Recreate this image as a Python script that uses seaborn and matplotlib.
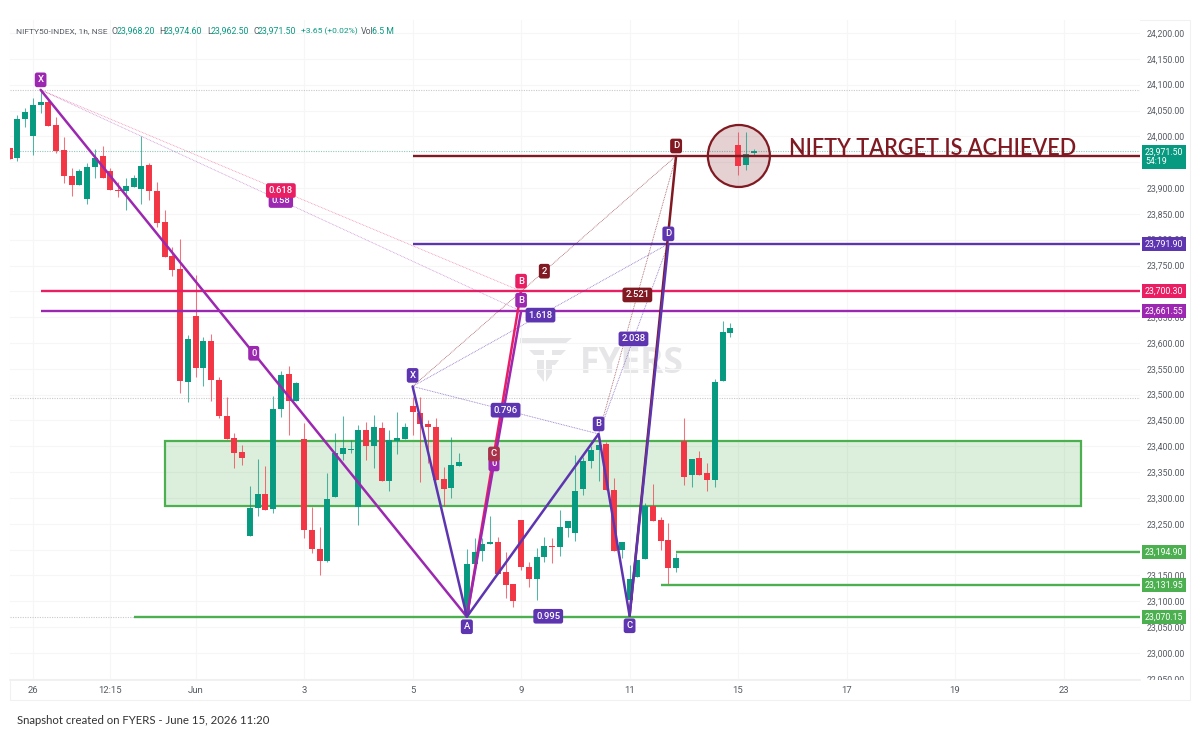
import matplotlib
matplotlib.use("Agg")
import matplotlib.pyplot as plt
from matplotlib.patches import Rectangle, Ellipse, Polygon
import seaborn as sns
import pandas as pd

# candles (1h bars)
opens = [23977, 23958, 24034, 24001, 24061, 24067, 24021, 23974, 23923, 23905, 23878, 23941, 23961, 23932, 23896, 23895, 23901,
         23899, 23945, 23895, 23835, 23768, 23743, 23525, 23653, 23551, 23604, 23529, 23459, 23416, 23389, 23227, 23280, 23308,
         23278, 23473, 23540, 23488, 23414, 23238, 23202, 23178, 23301, 23386, 23393, 23282, 23431, 23400, 23436, 23332, 23411,
         23414, 23478, 23465, 23443, 23438, 23337, 23319, 23362, 23077, 23173, 23198, 23210, 23214, 23156, 23133, 23258, 23167,
         23144, 23185, 23207, 23206, 23242, 23232, 23317, 23372, 23393, 23404, 23316, 23200, 23103, 23147, 23182, 23284, 23258,
         23219, 23164, 23411, 23344, 23377, 23348, 23335, 23527, 23619, 23983.5, 23945, 23968.2]
highs = [23977, 24041, 24054, 24075, 24088, 24074, 24038, 23998, 23939, 23936, 23948, 23975, 23982, 23939, 23912, 23920, 23925,
         24001, 23949, 23911, 23857, 23786, 23801, 23616, 23732, 23612, 23617, 23534, 23496, 23425, 23403, 23324, 23375, 23362,
         23498, 23546, 23556, 23524, 23446, 23282, 23243, 23348, 23425, 23458, 23413, 23442, 23448, 23461, 23448, 23432, 23466,
         23446, 23496, 23496, 23451, 23454, 23360, 23418, 23387, 23201, 23222, 23222, 23266, 23224, 23196, 23133, 23258, 23177,
         23203, 23225, 23222, 23277, 23256, 23384, 23380, 23400, 23419, 23409, 23338, 23214, 23171, 23180, 23291, 23327, 23264,
         23251, 23194, 23455, 23376, 23390, 23367, 23530, 23643, 23638, 24009, 24009, 23974.6]
lows = [23956, 23953, 24019, 23964, 24045, 24020, 23967, 23909, 23885, 23905, 23869, 23919, 23919, 23896, 23882, 23857, 23901,
        23870, 23877, 23825, 23766, 23730, 23504, 23486, 23534, 23516, 23487, 23455, 23415, 23358, 23363, 23227, 23265, 23277,
        23271, 23456, 23422, 23488, 23222, 23193, 23151, 23177, 23301, 23373, 23387, 23247, 23374, 23358, 23332, 23313, 23385,
        23414, 23422, 23330, 23367, 23335, 23285, 23300, 23362, 23074, 23173, 23178, 23210, 23153, 23106, 23089, 23160, 23127,
        23103, 23177, 23174, 23187, 23224, 23217, 23306, 23358, 23332, 23316, 23198, 23184, 23074, 23147, 23182, 23256, 23200,
        23133, 23156, 23325, 23321, 23345, 23313, 23322, 23527, 23611, 23925, 23935, 23962.5]
closes = [23956, 24034, 24048, 24061, 24067, 24020, 23972, 23923, 23906, 23933, 23941, 23959, 23920, 23896, 23895, 23903, 23919,
          23943, 23895, 23833, 23767, 23741, 23527, 23608, 23551, 23604, 23529, 23459, 23415, 23388, 23378, 23280, 23308, 23277,
          23473, 23538, 23488, 23522, 23238, 23201, 23178, 23298, 23388, 23396, 23394, 23431, 23400, 23438, 23332, 23413, 23416,
          23437, 23466, 23443, 23438, 23335, 23318, 23364, 23369, 23172, 23196, 23210, 23214, 23153, 23132, 23101, 23166, 23144,
          23186, 23207, 23205, 23243, 23256, 23314, 23372, 23393, 23403, 23316, 23198, 23214, 23144, 23180, 23285, 23256, 23217,
          23164, 23184, 23340, 23376, 23345, 23335, 23525, 23621, 23630, 23943, 23966, 23971.5]

# pattern points (bar number, price)
x_purple = [4, 59, 66]
y_purple = [24090, 23070.15, 23661.55]
x_pink = [4, 59, 66]
y_pink = [24090, 23070.15, 23700.30]
x_blue = [52, 59, 76, 80, 85]
y_blue = [23516, 23070.15, 23424, 23072, 23791.90]
x_maroon = [52, 59, 76, 80, 86]
y_maroon = [23516, 23070.15, 23424, 23072, 23962]

price_ticks = [24200 - 50 * n for n in range(26)]
time_pos = [3, 13, 24, 38, 52, 66, 80, 94, 108, 122, 136]
time_labels = ["26", "12:15", "Jun", "3", "5", "9", "11", "15", "17", "19", "23"]

RED = "#f23645"
GREEN = "#089981"
PURPLE = "#9c27b0"
PINK = "#e91e63"
BLUE = "#5e35b1"
MAROON = "#801922"
LINE_GREEN = "#4caf50"
GREY = "#555b63"

sns.set_theme(style="white")
plt.rcParams["font.family"] = ["Roboto", "DejaVu Sans"]


def px(x, y):
    return x / 1200, 1 - y / 735


fig = plt.figure(figsize=(12, 7.35), dpi=100)
ax = fig.add_axes([10 / 1200, 1 - 680 / 735, 1130 / 1200, 660 / 735])
ax.set_xlim(0.05, 145.86)
ax.set_ylim(22947.7, 24225.2)

ax.set_axisbelow(True)
ax.grid(True, color="#f6f6f6", lw=0.8)
ax.set_yticks(price_ticks)
ax.set_yticklabels([f"{p:,.2f}" for p in price_ticks], fontsize=6.3, color=GREY)
ax.yaxis.tick_right()
ax.set_xticks(time_pos)
ax.set_xticklabels(time_labels, fontsize=6.8, color=GREY)
ax.tick_params(axis="both", length=0)
ax.tick_params(axis="y", pad=4.5)
ax.tick_params(axis="x", pad=4)
for side in ["top", "left", "right"]:
    ax.spines[side].set_visible(False)
ax.spines["bottom"].set_color("#f0f0f0")

# outer frame of the snapshot
fig.add_artist(Rectangle(px(10, 700), 1180 / 1200, 680 / 735, transform=fig.transFigure,
                         fill=False, ec="#f1f1f1", lw=0.8, zorder=-1))
# bottom price label is cut by the time scale
fig.add_artist(Rectangle(px(1141, 688), 48 / 1200, 8 / 735, transform=fig.transFigure,
                         fc="white", ec="none", zorder=5))

# watermark
wm = [[(520, 338), (572, 338), (566, 343), (520, 343)],
      [(529, 350), (544, 350), (544, 355), (534, 355)],
      [(552, 350), (566, 350), (561, 355), (552, 355)],
      [(537, 360), (544, 360), (544, 382), (537, 373)],
      [(546, 360), (559, 360), (555, 365), (552, 365), (552, 373), (546, 382)]]
for poly in wm:
    ax.add_patch(Polygon([px(*p) for p in poly], transform=fig.transFigure, fc="#e6e6e8", ec="none", zorder=0.5))
ax.text(*px(580, 373), "FYERS", transform=fig.transFigure, fontsize=25.5, fontweight="bold",
        color="#e6e6e8", family="Open Sans", va="baseline", ha="left", zorder=0.5)

# dotted level lines
for level, col in [(24090, "#c9c9c9"), (23971.5, "#8fc9bc"), (23494, "#c9c9c9")]:
    ax.axhline(level, color=col, lw=0.8, ls=(0, (1, 1.2)), zorder=1)
ax.plot([0.05, 16], [23070.15, 23070.15], color="#c9c9c9", lw=0.8, ls=(0, (1, 1.2)), zorder=1)

# demand zone
ax.add_patch(Rectangle((20, 23284), 118.2, 127, fc=LINE_GREEN, alpha=0.2, ec="none", zorder=1.2))
ax.add_patch(Rectangle((20, 23284), 118.2, 127, fill=False, ec=LINE_GREEN, lw=1.6, zorder=1.3))

# target circle
ax.add_patch(Ellipse((94.1, 23962), 8.0, 120, fc=MAROON, alpha=0.2, ec="none", zorder=1.4))
ax.add_patch(Ellipse((94.1, 23962), 8.0, 120, fill=False, ec=MAROON, lw=1.6, zorder=4.5))

# candles
bars = pd.DataFrame({"bar": range(len(opens)), "open": opens, "high": highs, "low": lows, "close": closes})
bars["dir"] = ["up" if c >= o else "down" for o, c in zip(opens, closes)]
candle_colors = {"up": GREEN, "down": RED}
wicks = bars.melt(id_vars=["bar", "dir"], value_vars=["low", "high"], value_name="price")
bodies = bars.melt(id_vars=["bar", "dir"], value_vars=["open", "close"], value_name="price")
sns.lineplot(data=wicks, x="bar", y="price", units="bar", estimator=None, hue="dir", palette=candle_colors,
             legend=False, linewidth=0.75, alpha=0.7, solid_capstyle="butt", zorder=2, ax=ax)
sns.lineplot(data=bodies, x="bar", y="price", units="bar", estimator=None, hue="dir", palette=candle_colors,
             legend=False, linewidth=4.3, solid_capstyle="butt", zorder=2.2, ax=ax)
ax.set_xlabel("")
ax.set_ylabel("")


def leg(xs, ys, col, lw=1.8, ls="-", z=3, alpha=1):
    sns.lineplot(x=xs, y=ys, sort=False, estimator=None, color=col, linewidth=lw, linestyle=ls,
                 solid_capstyle="round", zorder=z, alpha=alpha, ax=ax)


# thin ratio lines
dot = (0, (1, 1))
leg([x_purple[0], x_purple[2]], [y_purple[0], y_purple[2]], PURPLE, 0.55, dot, alpha=0.55)
leg([x_pink[0], x_pink[2]], [y_pink[0], y_pink[2]], PINK, 0.55, dot, alpha=0.55)
leg([x_blue[0], x_blue[2]], [y_blue[0], y_blue[2]], BLUE, 0.6, dot, alpha=0.7)
leg([x_blue[0], x_blue[4]], [y_blue[0], y_blue[4]], BLUE, 0.6, dot, alpha=0.7)
leg([x_blue[2], x_blue[4]], [y_blue[2], y_blue[4]], BLUE, 0.6, dot, alpha=0.7)
leg([x_maroon[0], x_maroon[4]], [y_maroon[0], y_maroon[4]], MAROON, 0.6, dot, alpha=0.7)
leg([x_maroon[2], x_maroon[4]], [y_maroon[2], y_maroon[4]], MAROON, 0.6, dot, alpha=0.7)

# horizontal levels
levels = [(23962, 52, MAROON), (23791.90, 52, BLUE), (23700.30, 4, PINK), (23661.55, 4, PURPLE),
          (23194.90, 86, LINE_GREEN), (23131.95, 84, LINE_GREEN), (23070.15, 16, LINE_GREEN)]
for price, start, col in levels:
    ax.plot([start, 145.86], [price, price], color=col, lw=1.7, solid_capstyle="butt", zorder=2.8)

# pattern legs
leg(x_maroon[3:], y_maroon[3:], MAROON, 1.8, z=3)
leg(x_pink[1:], y_pink[1:], PINK, 1.8, z=3.1)
leg(x_purple, y_purple, PURPLE, 1.8, z=3.2)
leg(x_blue, y_blue, BLUE, 1.8, z=3.3)


def tag(x, y, text, col, dy=0, fs=6.8):
    ax.annotate(text, (x, y), xytext=(0, dy), textcoords="offset pixels", ha="center", va="center",
                color="white", fontsize=fs, fontweight="medium", zorder=6,
                bbox=dict(boxstyle="round,pad=0.3,rounding_size=0.25", fc=col, ec="none"))


def mid(xs, ys, a, b):
    return (xs[a] + xs[b]) / 2, (ys[a] + ys[b]) / 2


tag(x_purple[0], y_purple[0], "X", PURPLE, 10)
tag(*mid(x_purple, y_purple, 0, 1), "0", PURPLE)
tag(*mid(x_purple, y_purple, 1, 2), "0", PURPLE)
tag(x_purple[2], y_purple[2], "B", PURPLE, 11)
tag(*mid(x_purple, y_purple, 0, 2), "0.58", PURPLE)
tag(x_pink[2], y_pink[2], "B", PINK, 10)
tag(*mid(x_pink, y_pink, 1, 2), "C", "#a8324a")
tag(*mid(x_pink, y_pink, 0, 2), "0.618", PINK)
tag(x_blue[0], y_blue[0], "X", BLUE, 11)
tag(x_blue[1], y_blue[1], "A", BLUE, -10)
tag(x_blue[2], y_blue[2], "B", BLUE, 10)
tag(x_blue[3], y_blue[3], "C", BLUE, -10)
tag(x_blue[4], y_blue[4], "D", BLUE, 10)
tag(*mid(x_blue, y_blue, 0, 2), "0.796", BLUE)
tag(*mid(x_blue, y_blue, 1, 3), "0.995", BLUE)
tag(*mid(x_blue, y_blue, 0, 4), "1.618", BLUE)
tag(*mid(x_blue, y_blue, 2, 4), "2.038", BLUE)
tag(x_maroon[4], y_maroon[4], "D", MAROON, 10)
tag(*mid(x_maroon, y_maroon, 0, 4), "2", MAROON)
tag(*mid(x_maroon, y_maroon, 2, 4), "2.521", MAROON)

# price tags on the scale
scale_tags = [(23791.90, BLUE), (23700.30, PINK), (23661.55, PURPLE),
              (23194.90, LINE_GREEN), (23131.95, LINE_GREEN), (23070.15, LINE_GREEN)]
trans = ax.get_yaxis_transform()
for price, col in scale_tags:
    ax.text(1.0044, price, f"{price:,.2f}", transform=trans, fontsize=6.3, color="white", va="center", ha="left",
            zorder=7, clip_on=False, bbox=dict(boxstyle="square,pad=0.3", fc=col, ec="none"))
ax.text(1.0044, 23960, "23,971.50\n54:19", transform=trans, fontsize=6.3, color="white", va="center", ha="left",
        zorder=7, clip_on=False, linespacing=1.1, bbox=dict(boxstyle="square,pad=0.3", fc=GREEN, ec="none"))

ax.text(*px(789, 155), "NIFTY TARGET IS ACHIEVED", transform=fig.transFigure, fontsize=15.6, color=MAROON,
        family="Lato", fontweight="semibold", va="baseline", ha="left", zorder=6)

# legend row
top = [(16, "NIFTY50-INDEX, 1h, NSE", GREY, 6.0), (112, "O", GREY, 6.3), (117, "23,968.20", GREEN, 6.3),
       (159, "H", GREY, 6.3), (164, "23,974.60", GREEN, 6.3), (207, "L", GREY, 6.3), (211, "23,962.50", GREEN, 6.3),
       (253, "C", GREY, 6.3), (258, "23,971.50", GREEN, 6.3), (301, "+3.65 (+0.02%)", GREEN, 6.1),
       (361, "Vol", GREY, 6.3), (372, "6.5 M", GREEN, 6.3)]
for x, text, col, size in top:
    fig.text(*px(x, 31), text, fontsize=size, color=col, va="center", ha="left")

fig.text(*px(17, 720.5), "Snapshot created on FYERS - June 15, 2026 11:20", fontsize=8.2, color="#333333",
         family="Lato", va="center", ha="left")

fig.savefig("out.png", dpi=100)
